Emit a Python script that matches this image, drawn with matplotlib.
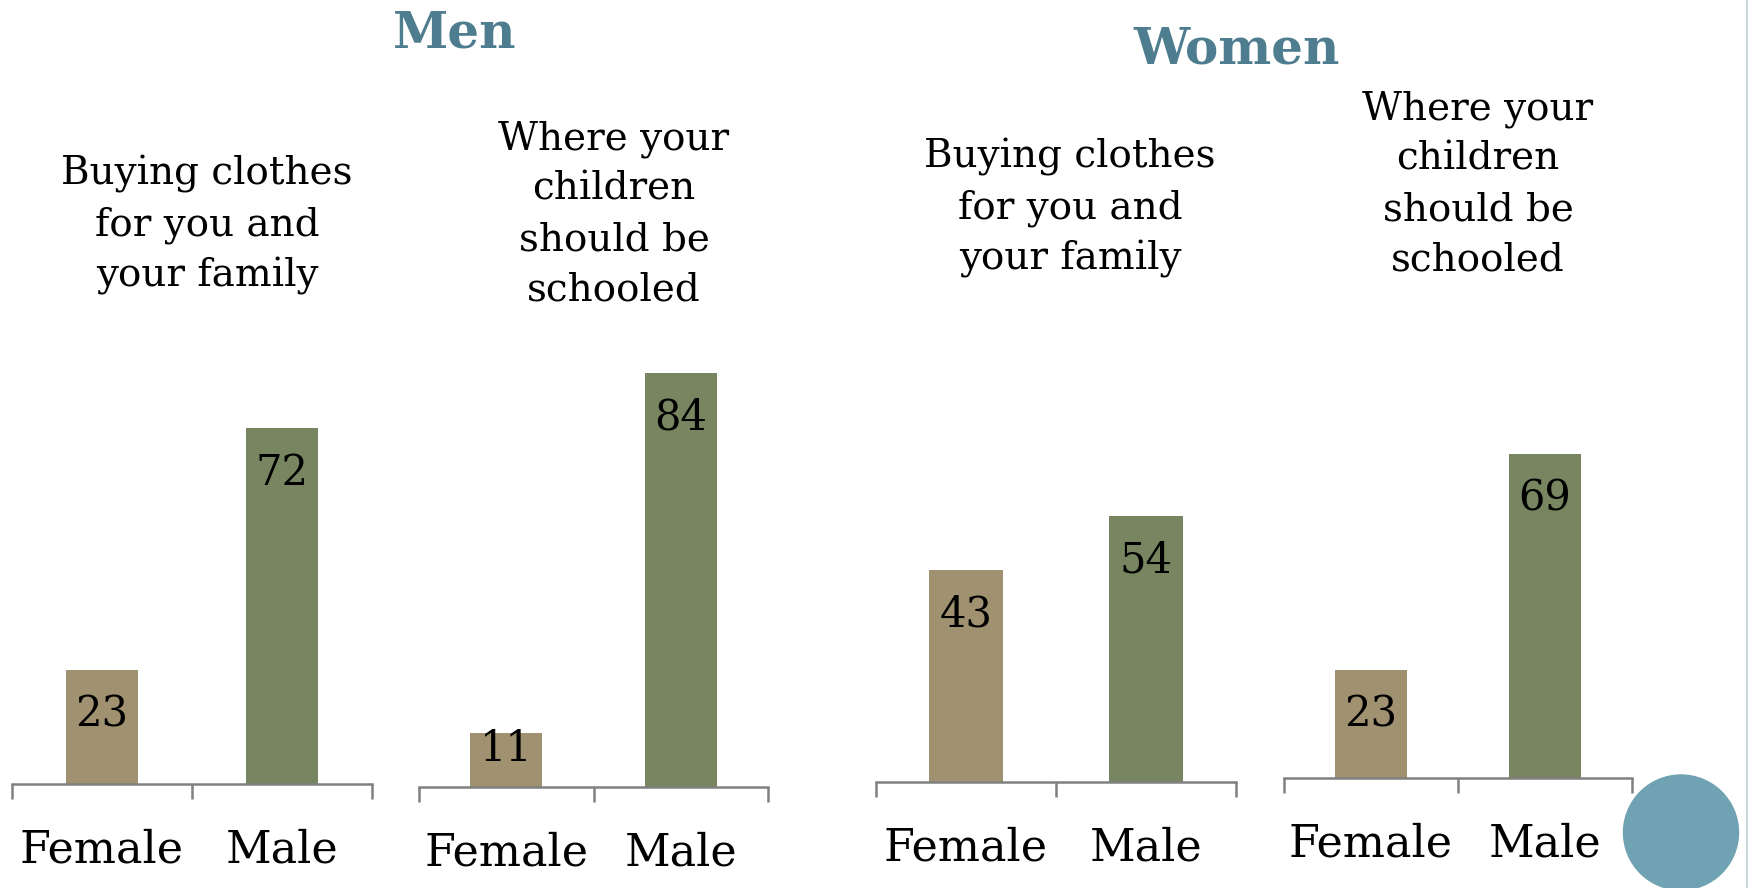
import matplotlib
matplotlib.use("Agg")
import matplotlib.pyplot as plt
from matplotlib.patches import Ellipse
from matplotlib.lines import Line2D

# ---- data ----
categories = ["Female", "Male"]
group_titles = ["Men", "Women"]
panel_titles = [
    "Buying clothes\nfor you and\nyour family",
    "Where your\nchildren\nshould be\nschooled",
    "Buying clothes\nfor you and\nyour family",
    "Where your\nchildren\nshould be\nschooled",
]
men_clothes = [23, 72]
men_school = [11, 84]
women_clothes = [43, 54]
women_school = [23, 69]
panel_values = [men_clothes, men_school, women_clothes, women_school]

# ---- style ----
W, H = 1748, 888
FEMALE_C = "#A09270"
MALE_C = "#778660"
TITLE_C = "#4D7D8E"
AXIS_C = "#808080"
SERIF = "DejaVu Serif"

fig = plt.figure(figsize=(W / 100, H / 100), dpi=100)
fig.patch.set_facecolor("white")

# panel geometry in pixels: (x0, x1, axis_y, px_per_unit, bar_width)
geoms = [
    (12, 372, 784, 4.94, 0.40),
    (419, 768, 787, 4.93, 0.41),
    (876, 1236, 781.5, 4.91, 0.41),
    (1284, 1632, 778, 4.69, 0.41),
]
title_pos = [(207, 155), (614, 120), (1070, 138), (1478, 90)]

for vals, (x0, x1, yb, ppu, bw), ttl, (tx, ty) in zip(panel_values, geoms, panel_titles, title_pos):
    hpx = ppu * 100
    ax = fig.add_axes([x0 / W, 1 - yb / H, (x1 - x0) / W, hpx / H])
    ax.set_xlim(-0.5, 1.5)
    ax.set_ylim(0, 100)
    ax.bar(range(len(categories)), vals, width=bw, color=[FEMALE_C, MALE_C], zorder=2)
    for s in ["top", "left", "right"]:
        ax.spines[s].set_visible(False)
    ax.spines["bottom"].set_color(AXIS_C)
    ax.spines["bottom"].set_linewidth(1.8)
    ax.set_yticks([])
    ax.set_xticks(range(len(categories)))
    ax.set_xticklabels(categories, fontfamily=SERIF, fontsize=32)
    ax.tick_params(axis="x", which="major", length=0, pad=32)
    ax.set_xticks([-0.5, 0.5, 1.5], minor=True)
    ax.tick_params(axis="x", which="minor", length=11, width=1.8, color=AXIS_C, direction="out")
    ax.patch.set_alpha(0)
    for i, v in enumerate(vals):
        off = -32 if v > 15 else -12
        ax.annotate(str(v), (i, v), xytext=(0, off), textcoords="offset points",
                    ha="center", va="center", fontfamily=SERIF, fontsize=30, color="black")
    fig.text(tx / W, 1 - ty / H, ttl, ha="center", va="top", fontfamily=SERIF,
             fontsize=28, linespacing=1.46, color="black")

fig.text(455 / W, 1 - 48 / H, group_titles[0], ha="center", va="baseline",
         fontfamily=SERIF, fontweight="bold", fontsize=36, color=TITLE_C)
fig.text(1237 / W, 1 - 64 / H, group_titles[1], ha="center", va="baseline",
         fontfamily=SERIF, fontweight="bold", fontsize=36, color=TITLE_C)

# decorative circle and right edge line
fig.patches.append(Ellipse((1681 / W, 1 - 832.5 / H), 115 / W, 115 / H,
                           transform=fig.transFigure, color="#6FA2B2", zorder=5))
fig.lines.append(Line2D([1746.5 / W, 1746.5 / W], [0, 1], transform=fig.transFigure,
                        color="#BFD0D5", linewidth=1.2))

fig.savefig("out.png", dpi=100)
